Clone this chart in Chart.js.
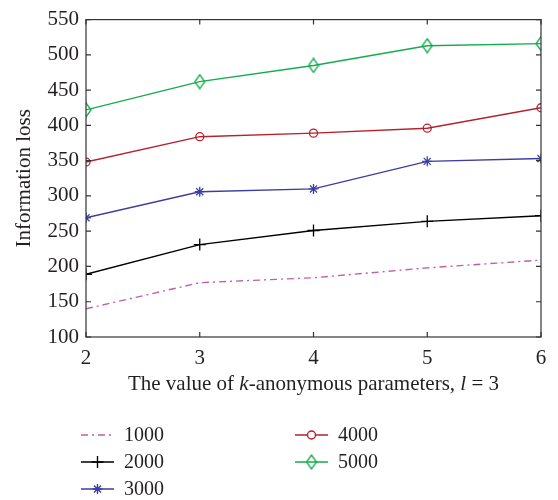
<!DOCTYPE html>
<html>
<head>
<meta charset="utf-8">
<script src="https://cdn.jsdelivr.net/npm/chart.js"></script>
<style>
  html, body { margin: 0; padding: 0; background: #fff; }
  #wrap { width: 558px; height: 500px; position: relative; }
</style>
</head>
<body>
<div id="wrap"><canvas id="chart" width="558" height="500"></canvas></div>
<script>
// --- data ---
const kValues = [2, 3, 4, 5, 6];
const yTicks = [100, 150, 200, 250, 300, 350, 400, 450, 500, 550];
const seriesNames = ['1000', '2000', '3000', '4000', '5000'];
const loss1000 = [140, 177, 184, 198, 209];
const loss2000 = [189, 231, 251, 264, 272];
const loss3000 = [269, 306, 310, 349, 353];
const loss4000 = [348, 384, 389, 396, 425];
const loss5000 = [422, 462, 485, 513, 516];

const FONT = '"Liberation Serif", "DejaVu Serif", serif';
const INK = '#231f20';

// tall hollow diamond for 5000
function makeDiamond(color) {
    const c = document.createElement('canvas');
    c.width = 12; c.height = 16;
    const g = c.getContext('2d');
    g.strokeStyle = color;
    g.lineWidth = 1.3;
    g.beginPath();
    g.moveTo(6, 1); g.lineTo(11, 8); g.lineTo(6, 15); g.lineTo(1, 8); g.closePath();
    g.stroke();
    return c;
}

const styles = [
    { color: '#c05fa6', dash: [7, 4, 2, 4], point: false, radius: 0 },
    { color: '#000000', dash: [], point: 'cross', radius: 6 },
    { color: '#3b3ea0', dash: [], point: 'star', radius: 5 },
    { color: '#b5212d', dash: [], point: 'circle', radius: 4 },
    { color: '#12ad4b', dash: [], point: makeDiamond('#12ad4b'), radius: 6 }
];
const allLoss = [loss1000, loss2000, loss3000, loss4000, loss5000];

const datasets = allLoss.map((vals, i) => ({
    label: seriesNames[i],
    data: vals.map((v, j) => ({ x: kValues[j], y: v })),
    borderColor: styles[i].color,
    backgroundColor: 'rgba(0,0,0,0)',
    borderWidth: 1.4,
    borderDash: styles[i].dash,
    pointStyle: styles[i].point,
    pointRadius: styles[i].radius,
    pointBorderColor: styles[i].color,
    pointBorderWidth: 1.3,
    pointBackgroundColor: 'rgba(0,0,0,0)',
    tension: 0
}));

// frame, inward ticks, axis titles and legend
const decor = {
    id: 'decor',
    afterDraw(chart) {
        const ctx = chart.ctx;
        const a = chart.chartArea;
        const xs = chart.scales.x, ys = chart.scales.y;
        ctx.save();
        ctx.strokeStyle = '#333';
        ctx.lineWidth = 1.2;
        ctx.setLineDash([]);
        ctx.strokeRect(a.left, a.top, a.right - a.left, a.bottom - a.top);
        ctx.beginPath();
        kValues.forEach(k => {
            const px = xs.getPixelForValue(k);
            ctx.moveTo(px, a.bottom); ctx.lineTo(px, a.bottom - 5);
            ctx.moveTo(px, a.top); ctx.lineTo(px, a.top + 5);
        });
        yTicks.forEach(t => {
            const py = ys.getPixelForValue(t);
            ctx.moveTo(a.left, py); ctx.lineTo(a.left + 5, py);
            ctx.moveTo(a.right, py); ctx.lineTo(a.right - 5, py);
        });
        ctx.stroke();

        // y title
        ctx.fillStyle = INK;
        ctx.font = '21px ' + FONT;
        ctx.textAlign = 'center';
        ctx.textBaseline = 'middle';
        ctx.save();
        ctx.translate(24, (a.top + a.bottom) / 2);
        ctx.rotate(-Math.PI / 2);
        ctx.fillText('Information loss', 0, 0);
        ctx.restore();

        // x title with italic k and l
        const parts = [
            ['The value of ', false], ['k', true], ['-anonymous parameters, ', false],
            ['l', true], [' = 3', false]
        ];
        let total = 0;
        parts.forEach(p => {
            ctx.font = (p[1] ? 'italic ' : '') + '21px ' + FONT;
            total += ctx.measureText(p[0]).width;
        });
        let x = (a.left + a.right) / 2 - total / 2;
        ctx.textAlign = 'left';
        parts.forEach(p => {
            ctx.font = (p[1] ? 'italic ' : '') + '21px ' + FONT;
            ctx.fillText(p[0], x, 384);
            x += ctx.measureText(p[0]).width;
        });

        // legend
        const spots = [[81, 435], [81, 462], [81, 489], [295, 435], [295, 462]];
        ctx.font = '20px ' + FONT;
        ctx.textBaseline = 'middle';
        chart.data.datasets.forEach((ds, i) => {
            const [lx, ly] = spots[i];
            ctx.strokeStyle = ds.borderColor;
            ctx.fillStyle = '#ffffff';
            ctx.lineWidth = 1.4;
            ctx.setLineDash(ds.borderDash);
            ctx.beginPath();
            ctx.moveTo(lx, ly); ctx.lineTo(lx + 33, ly);
            ctx.stroke();
            ctx.setLineDash([]);
            if (ds.pointStyle && ds.pointRadius) {
                Chart.helpers.drawPoint(ctx, {
                    pointStyle: ds.pointStyle, radius: ds.pointRadius, rotation: 0,
                    borderWidth: ds.pointBorderWidth
                }, lx + 16.5, ly);
            }
            ctx.fillStyle = INK;
            ctx.fillText(ds.label, lx + 43, ly + 1);
        });
        ctx.restore();
    }
};

new Chart(document.getElementById('chart'), {
    type: 'line',
    data: { datasets },
    options: {
        responsive: false,
        animation: false,
        layout: { padding: { top: 16, right: 17, bottom: 0, left: 0 } },
        plugins: { legend: { display: false }, tooltip: { enabled: false } },
        scales: {
            x: {
                type: 'linear', min: 2, max: 6,
                afterFit: s => { s.height = 163; },
                afterBuildTicks: s => { s.ticks = kValues.map(v => ({ value: v })); },
                grid: { display: false, drawTicks: false },
                border: { display: false },
                ticks: { color: INK, font: { family: FONT, size: 21 }, padding: 9 }
            },
            y: {
                min: 100, max: 550,
                afterFit: s => { s.width = 86; },
                afterBuildTicks: s => { s.ticks = yTicks.map(v => ({ value: v })); },
                grid: { display: false, drawTicks: false },
                border: { display: false },
                ticks: { color: INK, font: { family: FONT, size: 21 }, padding: 7 }
            }
        }
    },
    plugins: [decor]
});
</script>
</body>
</html>
